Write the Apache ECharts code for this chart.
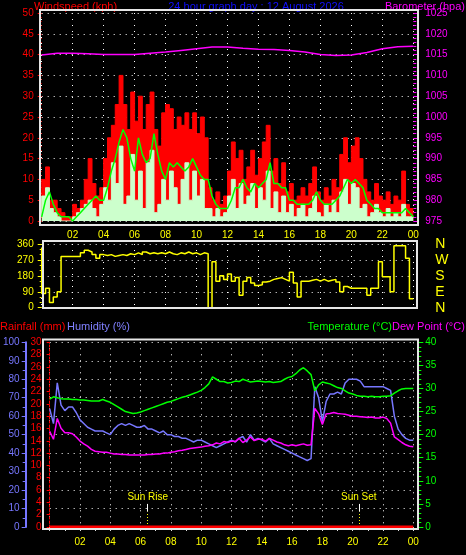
<!DOCTYPE html>
<html><head><meta charset="utf-8">
<script src="https://cdn.jsdelivr.net/npm/echarts@6/dist/echarts.min.js"></script>
<style>html,body{margin:0;padding:0;background:#000;}#c{width:466px;height:555px;}</style>
</head><body><div id="c"></div><script>
// ---- data (15-minute samples, 00:00 .. 24:00) ----
const windGust = [
 2,10,13,5, 5,3,2,1,
 1,4,3,5, 10,15,9,6,
 8,15,20,23, 28,35,28,22,
 31,24,30,22, 28,31,22,18,
 26,28,27,22, 25,23,26,22,
 26,21,25,20, 8,5,7,4,
 6,12,19,15, 17,10,13,17,
 11,15,19,23, 12,15,9,14,
 7,9,5,6, 8,6,9,13,
 7,5,8,6, 10,8,16,20,
 14,18,20,15, 10,7,5,9,
 6,5,7,4, 6,5,12,4,
 3];
const windSpeed = [
 1,6,8,3, 2,1,0,0,
 0,1,2,3, 4,5,3,1,
 4,8,5,14, 9,18,4,6,
 16,5,12,3, 14,17,2,4,
 10,5,12,8, 4,10,14,5,
 12,6,10,3, 3,1,3,1,
 2,6,10,3, 9,4,6,9,
 3,8,5,12, 3,7,2,6,
 2,4,1,3, 4,1,3,6,
 2,1,4,2, 5,2,7,10,
 4,9,8,3, 4,1,2,4,
 2,1,3,1, 2,1,4,1,
 1];
const windAvg = [
 1,5,7,4, 2,1,1,1,
 0,1,2,3, 4,5,6,5,
 5,8,12,15, 19,22,20,15,
 12,20,16,14, 15,21,16,12,
 10,14,13,14, 13,12,13,15,
 13,11,10,10, 6,4,3,3,
 3,5,8,8, 10,8,7,9,
 8,9,10,14, 9,9,8,8,
 5,5,4,4, 4,4,5,7,
 5,4,4,4, 5,6,8,10,
 9,10,9,8, 5,4,3,3,
 2,2,2,2, 2,2,3,2,
 1];
// hourly barometer
const barometer = [1014.9,1015.3,1015.3,1015.2,1015.0,1015.0,1015.0,1015.3,1015.6,1016.0,1016.4,1016.8,1016.8,
 1016.5,1016.3,1016.2,1016.0,1015.6,1015.0,1014.8,1014.9,1015.5,1016.4,1016.9,1017.0];
const windDir = [
 340,80,110,30, 60,90,290,290,
 290,290,290,310, 325,315,300,280,
 300,295,300,290, 295,300,295,305,
 300,310,300,315, 305,310,305,310,
 305,315,305,300, 310,305,315,305,
 310,300,310,305, 0,260,150,180,
 160,190,150,170, 70,150,170,140,
 125,130,145,150, 160,165,170,160,
 150,200,140,60, 150,150,155,160,
 150,160,150,155, 160,145,90,120,
 110,110,110,110, 110,70,110,110,
 260,175,175,90, 350,350,350,280,
 50];
const humidity = [
 64,56,78,66, 63,65,65,62,
 58,56,54,53, 52,52,52,51,
 50,53,55,56, 55,56,55,54,
 54,55,53,53, 52,51,52,50,
 50,49,49,48, 48,47,46,47,
 47,46,45,44, 43,44,45,46,
 47,46,48,49, 46,50,47,48,
 47,46,48,45, 44,43,42,41,
 40,39,38,37, 36,37,76,70,
 57,68,72,72, 73,72,78,80,
 80,80,79,76, 76,76,76,76,
 76,75,74,60, 53,50,48,47,
 47];
const temperature = [
 27.7,28.2,28.0,27.8, 27.7,27.7,27.6,27.6,
 27.5,27.5,27.4,27.3, 27.3,27.3,27.6,27.3,
 27.0,26.5,26.0,25.5, 25.0,24.8,24.6,24.7,
 24.9,25.2,25.5,25.8, 26.1,26.4,26.7,27.0,
 27.2,27.5,27.8,28.1, 28.3,28.6,28.9,29.2,
 29.6,30.2,31.0,32.5, 32.0,31.5,31.5,31.2,
 31.3,31.6,31.5,32.0, 31.7,31.4,31.5,31.6,
 31.5,31.4,31.5,31.3, 31.4,31.5,32.0,32.4,
 32.6,33.2,34.0,34.5, 33.8,33.0,29.5,30.8,
 31.4,31.2,31.0,30.6, 30.2,30.0,29.5,29.0,
 28.8,28.5,28.3,28.3, 28.2,28.3,28.2,28.2,
 28.3,28.3,28.4,29.0, 29.5,29.9,30.0,30.0,
 30.0];
const dewPoint = [
 20.7,19.0,23.5,21.4, 20.4,20.4,20.2,19.5,
 18.6,18.0,17.5,16.8, 16.4,16.3,16.2,16.2,
 16.0,15.8,15.8,15.7, 15.7,15.6,15.6,15.6,
 15.6,15.6,15.7,15.7, 15.8,15.8,16.0,16.0,
 16.2,16.3,16.5,16.6, 16.8,17.0,17.1,17.2,
 17.3,17.5,17.6,17.8, 18.2,18.0,18.5,18.3,
 18.6,18.5,19.2,18.3, 18.8,19.5,18.7,19.0,
 19.0,18.6,19.2,18.8, 18.4,18.2,17.8,17.6,
 17.8,17.6,17.8,18.0, 17.7,17.8,25.7,24.5,
 22.2,24.5,24.6,24.8, 24.6,24.5,24.4,24.2,
 24.0,24.0,23.9,23.8, 23.7,23.8,23.6,23.6,
 23.8,23.5,22.5,19.5, 18.9,18.3,17.8,17.5,
 17.4];
// hourly rainfall
const rainfall = [0,0,0,0,0,0,0,0,0,0,0,0,0,0,0,0,0,0,0,0,0,0,0,0,0];
const sunRise = 6.47, sunSet = 20.4;
const compass = {0:'N',90:'E',180:'S',270:'W',360:'N'};

// ---- helpers ----
const pairs = a => a.map((v,i)=>[i*24/(a.length-1), v]);
const F = 'Liberation Sans';
const dotted = {show:true, lineStyle:{color:'#ffffff', type:[1,5], width:1}};
const hourFmt = v => v===0 ? '' : String(v%24).padStart(2,'0');
const plain = v => String(v);

const chart = echarts.init(document.getElementById('c'));
chart.setOption({
  backgroundColor:'#000',
  animation:false,
  grid:[
    {left:41.7, top:13, width:371.6, height:208},
    {left:41.7, top:244, width:371.6, height:63.7},
    {left:45, top:342.3, width:368.3, height:184.7}
  ],
  xAxis:[
    {gridIndex:0, type:'value', min:0, max:24, interval:2,
     axisLine:{show:false}, axisTick:{show:false}, splitLine:dotted,
     axisLabel:{color:'#ffff00', fontSize:10, fontFamily:F, margin:9, formatter:hourFmt}},
    {gridIndex:1, type:'value', min:0, max:24, interval:2,
     axisLine:{show:false}, axisTick:{show:false}, splitLine:dotted, axisLabel:{show:false}},
    {gridIndex:2, type:'value', min:0, max:24, interval:2,
     axisLine:{show:false}, axisTick:{show:true, length:4, lineStyle:{color:'#ddd'}},
     minorTick:{show:true, splitNumber:2, length:4, lineStyle:{color:'#ddd'}},
     splitLine:dotted,
     axisLabel:{color:'#ffff00', fontSize:10, fontFamily:F, margin:10, formatter:hourFmt}}
  ],
  yAxis:[
    {gridIndex:0, type:'value', min:0, max:50, interval:5, position:'left',
     axisLine:{show:false}, axisTick:{show:true, length:4, lineStyle:{color:'#ff0000'}},
     minorTick:{show:true, splitNumber:5, length:2, lineStyle:{color:'#ff0000'}},
     splitLine:dotted, axisLabel:{color:'#ff0000', fontSize:10, fontFamily:F, margin:8}},
    {gridIndex:0, type:'value', min:975, max:1025, interval:5, position:'right',
     axisLine:{show:false}, axisTick:{show:true, length:5, lineStyle:{color:'#ff00ff'}},
     minorTick:{show:true, splitNumber:5, length:3, lineStyle:{color:'#ff00ff'}},
     splitLine:{show:false}, axisLabel:{color:'#ff00ff', fontSize:10, fontFamily:F, margin:12, formatter:plain}},
    {gridIndex:1, type:'value', min:0, max:360, interval:90, position:'left',
     axisLine:{show:false}, axisTick:{show:true, length:4, lineStyle:{color:'#ffff00'}},
     minorTick:{show:true, splitNumber:3, length:2, lineStyle:{color:'#ffff00'}},
     splitLine:dotted, axisLabel:{color:'#ffff00', fontSize:10, fontFamily:F, margin:8}},
    {gridIndex:1, type:'value', min:0, max:360, interval:90, position:'right',
     axisLine:{show:false}, axisTick:{show:false}, splitLine:{show:false},
     axisLabel:{color:'#ffff00', fontSize:14, fontFamily:F, margin:22, formatter:v=>compass[v]}},
    {gridIndex:2, type:'value', min:0, max:30, interval:2, position:'left', offset:2,
     axisLine:{show:true, lineStyle:{color:'#ff0000', type:[2,2], width:1}},
     axisTick:{show:true, length:3, lineStyle:{color:'#ff0000'}},
     splitLine:{show:false}, axisLabel:{color:'#ff0000', fontSize:10, fontFamily:F, margin:6}},
    {gridIndex:2, type:'value', min:0, max:100, interval:10, position:'left', offset:24,
     axisLine:{show:true, lineStyle:{color:'#7777ff', width:2}},
     axisTick:{show:true, length:4, lineStyle:{color:'#7777ff'}},
     minorTick:{show:true, splitNumber:2, length:3, lineStyle:{color:'#7777ff'}},
     splitLine:dotted, axisLabel:{color:'#7777ff', fontSize:10, fontFamily:F, margin:6}},
    {gridIndex:2, type:'value', min:0, max:40, interval:5, position:'right', offset:5,
     axisLine:{show:false}, axisTick:{show:true, length:5, lineStyle:{color:'#00ff00'}},
     minorTick:{show:true, splitNumber:5, length:3, lineStyle:{color:'#00ff00'}},
     splitLine:{show:false}, axisLabel:{color:'#00ff00', fontSize:10, fontFamily:F, margin:7}}
  ],
  series:[
    {name:'Gust', type:'line', xAxisIndex:0, yAxisIndex:0, data:pairs(windGust), step:'start',
     symbol:'none', lineStyle:{color:'#ff0000', width:1}, areaStyle:{color:'#ff0000', opacity:1}, z:2},
    {name:'Speed', type:'line', xAxisIndex:0, yAxisIndex:0, data:pairs(windSpeed), step:'start',
     symbol:'none', lineStyle:{color:'#ccffcc', width:1}, areaStyle:{color:'#ccffcc', opacity:1}, z:3},
    {name:'Average', type:'line', xAxisIndex:0, yAxisIndex:0, data:pairs(windAvg),
     symbol:'none', lineStyle:{color:'#00ff00', width:1.5}, z:4},
    {name:'Barometer', type:'line', xAxisIndex:0, yAxisIndex:1, data:pairs(barometer),
     symbol:'none', lineStyle:{color:'#ff00ff', width:1.5}, z:4},
    {name:'Direction', type:'line', xAxisIndex:1, yAxisIndex:2, data:pairs(windDir), step:'start',
     symbol:'none', lineStyle:{color:'#ffff00', width:1.5}},
    {name:'Rainfall', type:'line', xAxisIndex:2, yAxisIndex:4, data:pairs(rainfall),
     symbol:'none', lineStyle:{color:'#ff0000', width:3}, z:5,
     markLine:{silent:true, symbol:'none', animation:false,
       data:[
        [{coord:[sunRise,0], lineStyle:{color:'#ffff00', type:[1,2], width:1}, label:{show:false}},{coord:[sunRise,2.5]}],
        [{coord:[sunRise,2.5], lineStyle:{color:'#ffffff', type:'solid', width:1},
          label:{show:true, position:'end', formatter:'Sun Rise', color:'#ffff00', fontSize:10, fontFamily:F, distance:2}},{coord:[sunRise,3.75]}],
        [{coord:[sunSet,0], lineStyle:{color:'#ffff00', type:[1,2], width:1}, label:{show:false}},{coord:[sunSet,2.5]}],
        [{coord:[sunSet,2.5], lineStyle:{color:'#ffffff', type:'solid', width:1},
          label:{show:true, position:'end', formatter:'Sun Set', color:'#ffff00', fontSize:10, fontFamily:F, distance:2}},{coord:[sunSet,3.75]}]
       ]}},
    {name:'Humidity', type:'line', xAxisIndex:2, yAxisIndex:5, data:pairs(humidity),
     symbol:'none', lineStyle:{color:'#7777ff', width:1.5}},
    {name:'Temperature', type:'line', xAxisIndex:2, yAxisIndex:6, data:pairs(temperature),
     symbol:'none', lineStyle:{color:'#00ff00', width:1.5}},
    {name:'Dew Point', type:'line', xAxisIndex:2, yAxisIndex:6, data:pairs(dewPoint),
     symbol:'none', lineStyle:{color:'#ff00ff', width:1.5}}
  ],
  graphic:[
    {type:'rect', shape:{x:40,y:10,width:378,height:215}, style:{fill:null, stroke:'#e6e6e6', lineWidth:2}, z:10, silent:true},
    {type:'rect', shape:{x:43,y:241,width:374,height:67}, style:{fill:null, stroke:'#e6e6e6', lineWidth:2}, z:10, silent:true},
    {type:'rect', shape:{x:43,y:339.5,width:375,height:189.5}, style:{fill:null, stroke:'#e6e6e6', lineWidth:2}, z:10, silent:true},
    {type:'text', x:34, y:1, style:{text:'Windspeed (kph)', fill:'#ff0000', font:'11px '+F}},
    {type:'text', x:256, y:1, style:{text:'24 hour graph day : 12 August 2026', fill:'#1010ff', font:'11px '+F, textAlign:'center'}},
    {type:'text', x:465, y:1, style:{text:'Barometer (hpa)', fill:'#ff00ff', font:'11px '+F, textAlign:'right'}},
    {type:'text', x:0, y:321, style:{text:'Rainfall (mm)', fill:'#ff0000', font:'11px '+F}},
    {type:'text', x:67, y:321, style:{text:'Humidity (%)', fill:'#8080ff', font:'11px '+F}},
    {type:'text', x:392, y:321, style:{text:'Temperature (°C)', fill:'#00ff00', font:'11px '+F, textAlign:'right'}},
    {type:'text', x:392, y:321, style:{text:'Dew Point (°C)', fill:'#ff00ff', font:'11px '+F}}
  ]
});
</script></body></html>
